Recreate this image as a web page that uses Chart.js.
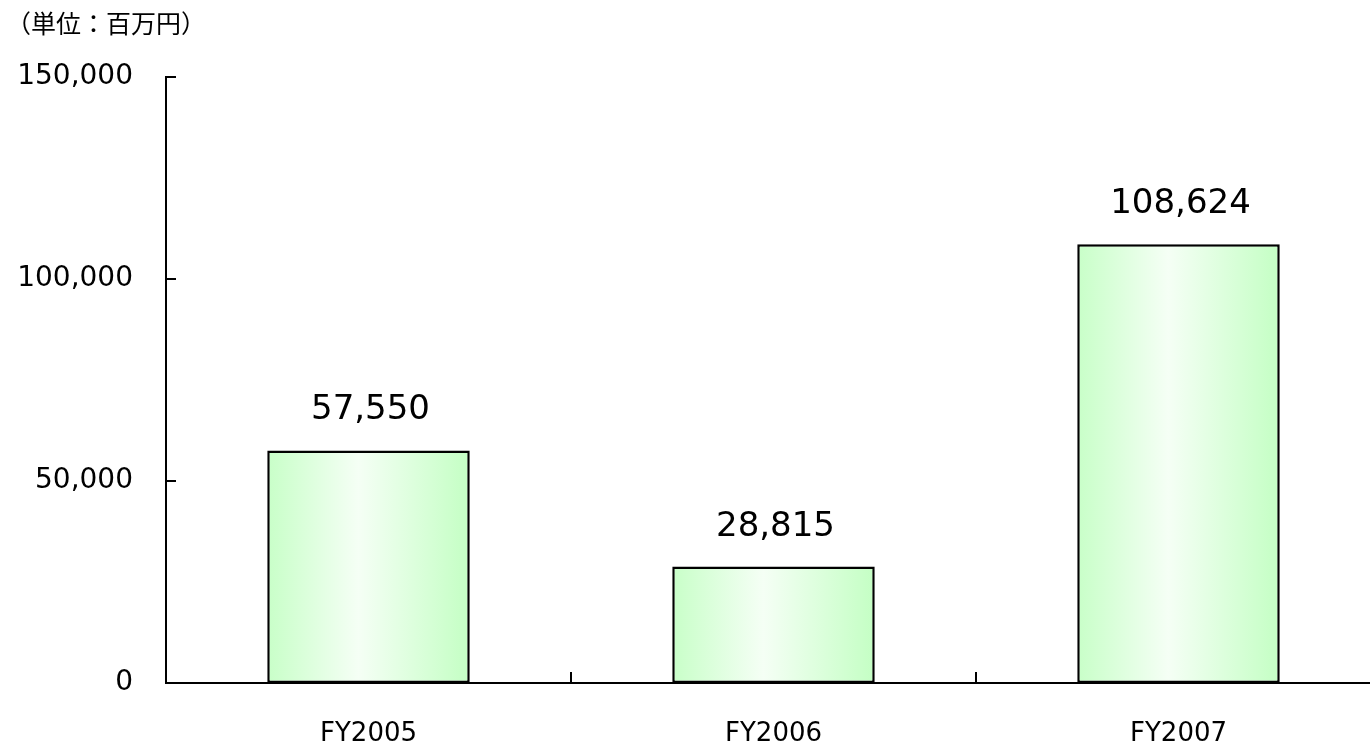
<!DOCTYPE html>
<html>
<head>
<meta charset="utf-8">
<script src="https://cdn.jsdelivr.net/npm/chart.js@4"></script>
<style>
  body { margin: 0; overflow: hidden; background: #fff; }
  #wrap { position: relative; width: 1370px; height: 744px; overflow: hidden; }
  #unit { position: absolute; left: 6px; top: 10px; font: 25px/1 "Noto Sans CJK JP", sans-serif; color: #000; }
  canvas { position: absolute; left: 0; top: 0; }
</style>
</head>
<body>
<div id="wrap">
  <canvas id="chart" width="1400" height="744"></canvas>
  <div id="unit">（単位：百万円）</div>
</div>
<script>
// データ
const categories = ['FY2005', 'FY2006', 'FY2007'];
const values = [57550, 28815, 108624];
const yTicks = [0, 50000, 100000, 150000];

const fmt = v => v.toLocaleString('en-US');

// 棒の横グラデーション
function barGradient(context) {
  const chart = context.chart;
  const xs = chart.scales.x;
  if (!chart.chartArea || !xs) return '#d6ffd6';
  const cx = xs.getPixelForValue(context.dataIndex);
  const half = (xs.width / categories.length) * 0.5 / 2;
  const g = chart.ctx.createLinearGradient(cx - half, 0, cx + half, 0);
  g.addColorStop(0, '#c8ffc8');
  g.addColorStop(0.45, '#f5fff5');
  g.addColorStop(1, '#c4ffc4');
  return g;
}

// 内向きの目盛りと数値ラベル
const extras = {
  id: 'extras',
  afterDatasetsDraw(chart) {
    const { ctx, chartArea, scales } = chart;
    ctx.save();
    ctx.strokeStyle = '#000';
    ctx.lineWidth = 2;
    scales.y.ticks.forEach(t => {
      const y = scales.y.getPixelForValue(t.value);
      ctx.beginPath();
      ctx.moveTo(chartArea.left, y);
      ctx.lineTo(chartArea.left + 10, y);
      ctx.stroke();
    });
    for (let i = 1; i < categories.length; i++) {
      const x = (scales.x.getPixelForValue(i - 1) + scales.x.getPixelForValue(i)) / 2;
      ctx.beginPath();
      ctx.moveTo(x, chartArea.bottom);
      ctx.lineTo(x, chartArea.bottom - 11);
      ctx.stroke();
    }
    ctx.fillStyle = '#000';
    ctx.font = '34px "DejaVu Sans"';
    ctx.textAlign = 'center';
    ctx.textBaseline = 'alphabetic';
    chart.getDatasetMeta(0).data.forEach((bar, i) => {
      ctx.fillText(fmt(values[i]), bar.x + 2, bar.y - 31);
    });
    ctx.restore();
  }
};

const ctx = document.getElementById('chart').getContext('2d');
new Chart(ctx, {
  type: 'bar',
  data: {
    labels: categories,
    datasets: [{
      data: values,
      backgroundColor: barGradient,
      borderColor: '#000',
      borderWidth: 2.5,
      borderSkipped: false,
      barPercentage: 0.5,
      categoryPercentage: 1
    }]
  },
  options: {
    responsive: false,
    animation: false,
    devicePixelRatio: 1,
    layout: { padding: { top: 77, right: 19, bottom: 0, left: 0 } },
    plugins: { legend: { display: false }, tooltip: { enabled: false } },
    scales: {
      x: {
        grid: { display: false, drawTicks: false },
        border: { display: true, color: '#000', width: 2 },
        ticks: { color: '#000', padding: 36, font: { family: 'DejaVu Sans', size: 26 } },
        afterFit: s => { s.height = 61; }
      },
      y: {
        min: 0,
        max: 150000,
        grid: { display: false, drawTicks: false },
        border: { display: true, color: '#000', width: 2 },
        afterBuildTicks: s => { s.ticks = yTicks.map(v => ({ value: v })); },
        ticks: { color: '#000', padding: 33, font: { family: 'DejaVu Sans', size: 28 }, callback: v => fmt(v) },
        afterFit: s => { s.width = 166; }
      }
    }
  },
  plugins: [extras]
});
</script>
</body>
</html>
